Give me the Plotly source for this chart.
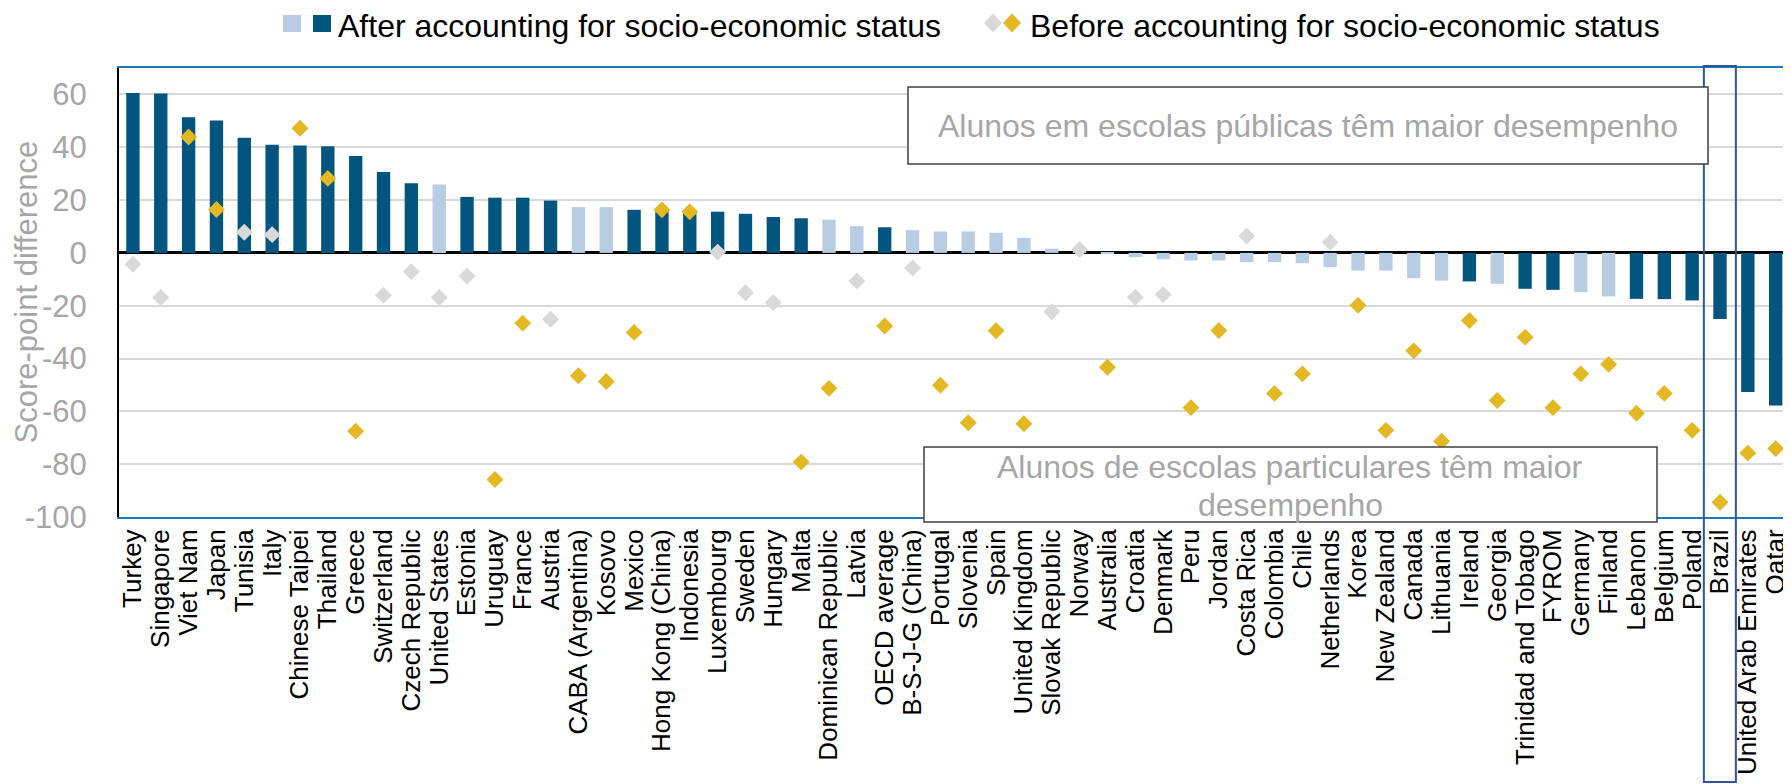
import plotly.graph_objects as go

# ---------------- data ----------------
countries = [
    "Turkey", "Singapore", "Viet Nam", "Japan", "Tunisia", "Italy", "Chinese Taipei",
    "Thailand", "Greece", "Switzerland", "Czech Republic", "United States", "Estonia",
    "Uruguay", "France", "Austria", "CABA (Argentina)", "Kosovo", "Mexico",
    "Hong Kong (China)", "Indonesia", "Luxembourg", "Sweden", "Hungary", "Malta",
    "Dominican Republic", "Latvia", "OECD average", "B-S-J-G (China)", "Portugal",
    "Slovenia", "Spain", "United Kingdom", "Slovak Republic", "Norway", "Australia",
    "Croatia", "Denmark", "Peru", "Jordan", "Costa Rica", "Colombia", "Chile",
    "Netherlands", "Korea", "New Zealand", "Canada", "Lithuania", "Ireland", "Georgia",
    "Trinidad and Tobago", "FYROM", "Germany", "Finland", "Lebanon", "Belgium",
    "Poland", "Brazil", "United Arab Emirates", "Qatar",
]

# score-point difference after accounting for socio-economic status (bars)
after_ses = [
    60.5, 60.3, 51.4, 50.1, 43.6, 40.9, 40.7, 40.4, 36.7, 30.6,
    26.4, 25.9, 21.2, 20.9, 20.9, 19.8, 17.3, 17.3, 16.3, 16.0,
    15.5, 15.6, 14.8, 13.6, 13.1, 12.6, 10.1, 9.7, 8.6, 8.1,
    8.1, 7.6, 5.7, 1.6, 0.2, -0.4, -1.6, -2.4, -2.9, -2.9,
    -3.5, -3.5, -3.9, -5.4, -6.7, -6.7, -9.6, -10.5, -10.8, -11.7,
    -13.6, -14.0, -14.9, -16.5, -17.4, -17.5, -18.0, -25.0, -52.7, -57.8,
]

# score-point difference before accounting for socio-economic status (diamonds)
before_ses = [
    -4.3, -16.9, 43.9, 16.4, 7.8, 6.9, 47.2, 28.2, -67.5, -16.0,
    -7.1, -16.9, -8.8, -85.8, -26.6, -25.1, -46.5, -48.7, -30.1, 16.3,
    15.6, 0.3, -15.1, -18.8, -79.2, -51.3, -10.6, -27.7, -5.7, -50.1,
    -64.3, -29.5, -64.7, -22.3, 1.3, -43.3, -16.8, -15.8, -58.6, -29.4,
    6.4, -53.2, -45.8, 4.0, -19.8, -67.2, -37.1, -71.3, -25.6, -55.9,
    -31.9, -58.6, -45.8, -42.2, -60.7, -53.2, -67.2, -94.4, -75.8, -74.1,
]

# statistically significant differences (1) vs not significant (0)
after_significant = [
    1, 1, 1, 1, 1, 1, 1, 1, 1, 1,
    1, 0, 1, 1, 1, 1, 0, 0, 1, 1,
    1, 1, 1, 1, 1, 0, 0, 1, 0, 0,
    0, 0, 0, 0, 0, 0, 0, 0, 0, 0,
    0, 0, 0, 0, 0, 0, 0, 0, 1, 0,
    1, 1, 0, 0, 1, 1, 1, 1, 1, 1,
]
before_significant = [
    0, 0, 1, 1, 0, 0, 1, 1, 1, 0,
    0, 0, 0, 1, 1, 0, 1, 1, 1, 1,
    1, 0, 0, 0, 1, 1, 0, 1, 0, 1,
    1, 1, 1, 0, 0, 1, 0, 0, 1, 1,
    0, 1, 1, 0, 1, 1, 1, 1, 1, 1,
    1, 1, 1, 1, 1, 1, 1, 1, 1, 1,
]

y_ticks = [-100, -80, -60, -40, -20, 0, 20, 40, 60]
highlight = "Brazil"

legend_after = "After accounting for socio-economic status"
legend_before = "Before accounting for socio-economic status"
note_public = "Alunos em escolas públicas têm maior desempenho"
note_private_lines = ["Alunos de escolas particulares têm maior", "desempenho"]
y_title = "Score-point difference"

# ---------------- style ----------------
DARK = "#02557f"
LIGHT = "#b8cce4"
GOLD = "#e3b822"
GREY_D = "#d9d9d9"
TXT_GREY = "#a6a6a6"
FRAME = "#1f78b4"
BOX = "#404040"
FONT = "Liberation Sans, Arial, sans-serif"

OFF = 8                      # default page (body) margin of the html page
W, H = 1791 - OFF, 784 - OFF
PLOT_L, PLOT_T, PLOT_B = 119, 68, 517   # wanted screen positions of the plot area
L, T = PLOT_L - OFF, PLOT_T - OFF
B = H - (PLOT_B - OFF)
R = 0
PW, PH = W - L - R, H - T - B
X_END = 59.55


def px(x):   # screen x -> paper
    return (x - OFF - L) / PW


def py(y):   # screen y -> paper
    return (PLOT_B - y) / PH


bar_colors = [DARK if s else LIGHT for s in after_significant]
dia_colors = [GOLD if s else GREY_D for s in before_significant]

fig = go.Figure()
fig.add_trace(go.Bar(
    x=countries, y=after_ses, marker=dict(color=bar_colors, line=dict(width=0)),
    width=0.48, showlegend=False, hoverinfo="x+y",
))
fig.add_trace(go.Scatter(
    x=countries, y=before_ses, mode="markers",
    marker=dict(symbol="diamond", size=13, color=dia_colors, line=dict(width=0)),
    showlegend=False, hoverinfo="x+y",
))

shapes = []
# Brazil highlight frame
bi = countries.index(highlight)
shapes.append(dict(type="rect", xref="x", yref="paper", x0=bi - 0.58, x1=bi + 0.57,
                   y0=py(782), y1=py(66), line=dict(color="#2f5597", width=2),
                   fillcolor="rgba(0,0,0,0)", layer="above"))


def rect(x0, x1, y0, y1, c, line=None):
    return dict(type="rect", xref="paper", yref="paper", x0=px(x0), x1=px(x1),
                y0=py(y1), y1=py(y0), fillcolor=c,
                line=line if line else dict(width=0), layer="above")


def diamond(cx, cy, hw, hh, c):
    pts = [(cx, cy - hh), (cx + hw, cy), (cx, cy + hh), (cx - hw, cy)]
    path = "M " + " L ".join(f"{px(a):.5f},{py(b):.5f}" for a, b in pts) + " Z"
    return dict(type="path", xref="paper", yref="paper", path=path, fillcolor=c,
                line=dict(width=0), layer="above")


# note boxes
shapes += [
    rect(908, 1708, 87, 164, "white", dict(color=BOX, width=1.5)),
    rect(924, 1657, 447, 522, "white", dict(color=BOX, width=1.5)),
]

# manual legend symbols
shapes += [
    rect(283, 301, 15, 32, LIGHT),
    rect(313, 331, 15, 32, DARK),
    diamond(993, 23, 9, 9.5, GREY_D),
    diamond(1012, 23, 9, 9.5, GOLD),
]


def label(text, x, y, size=32, color="black", xanchor="left", **kw):
    return dict(text=text, xref="paper", yref="paper", x=px(x), y=py(y),
                xanchor=xanchor, yanchor="middle", showarrow=False,
                font=dict(family=FONT, size=size, color=color), **kw)


annotations = [
    label(legend_after, 336, 26),
    label(legend_before, 1028, 26),
    label(y_title, 26, 292.5, size=31, color=TXT_GREY, xanchor="center", textangle=-90),
    label(note_public, 1308, 126, color=TXT_GREY, xanchor="center"),
    label(note_private_lines[0], 1290, 467, color=TXT_GREY, xanchor="center"),
    label(note_private_lines[1], 1290, 505, color=TXT_GREY, xanchor="center"),
]

fig.update_layout(
    width=W, height=H, margin=dict(l=L, r=R, t=T, b=B, autoexpand=False),
    paper_bgcolor="white", plot_bgcolor="white",
    font=dict(family=FONT),
    bargap=0.5, showlegend=False,
    shapes=shapes, annotations=annotations,
    xaxis=dict(
        type="category", range=[-0.5, X_END], tickangle=-90,
        tickmode="array", tickvals=countries, ticktext=countries,
        tickfont=dict(family=FONT, size=26, color="black"),
        showgrid=False, showline=True, linecolor=FRAME, linewidth=2, mirror=True,
        ticks="", automargin=False,
    ),
    yaxis=dict(
        range=[-100, 70], tickvals=y_ticks, ticktext=[str(v) for v in y_ticks],
        tickfont=dict(family=FONT, size=31, color=TXT_GREY),
        showgrid=True, gridcolor="#d9d9d9", gridwidth=1.5,
        zeroline=True, zerolinecolor="black", zerolinewidth=2.5,
        showline=True, linecolor="black", linewidth=2,
        ticks="", ticklabelstandoff=24, automargin=False,
    ),
)

fig.write_html("out.html")
